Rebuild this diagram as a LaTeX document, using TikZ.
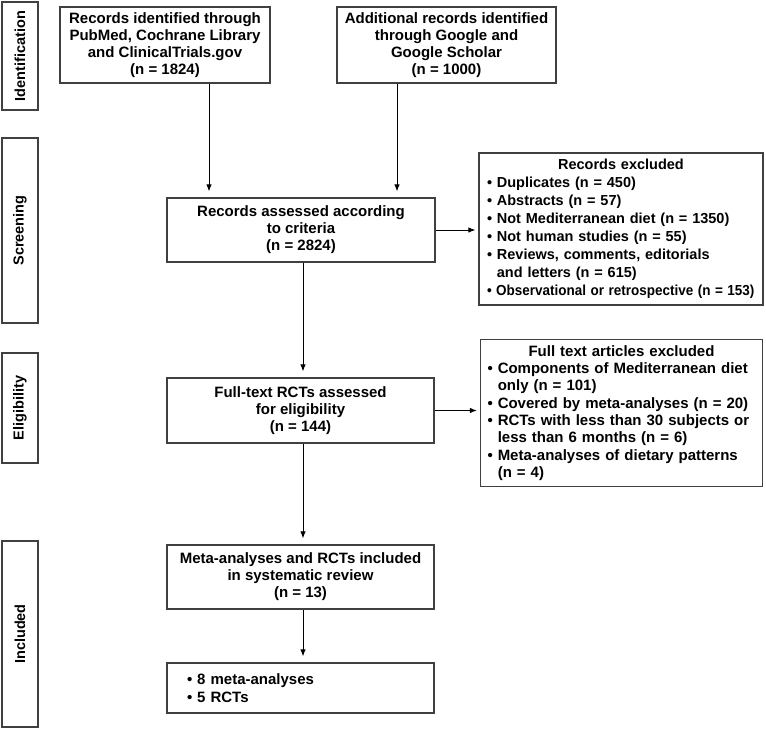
\documentclass[tikz,border=0pt]{standalone}
\usepackage{fontspec}
\setmainfont{Liberation Sans}
\usepackage{graphicx}
\usetikzlibrary{arrows.meta, calc}
\setlength{\parindent}{0pt}

\newcommand{\bul}{\textbullet\ }
\newcommand{\bulpad}{\hphantom{\textbullet\ }}

\tikzset{
  flowbox/.style={draw=black!75, line width=1.2pt, align=center, inner sep=0pt,
    font=\bfseries\fontsize{15}{17}\selectfont},
  stagebox/.style={draw=black!75, line width=1.2pt, rotate=90, inner sep=0pt,
    minimum height=36pt, font=\bfseries\fontsize{14.5}{17}\selectfont},
  listbox/.style={draw=black!75, line width=1.2pt, align=left, inner ysep=0pt},
  flowarrow/.style={-{Latex[length=7pt,width=5.5pt]}, line width=1pt, shorten >=6pt},
  sidearrow/.style={flowarrow, shorten >=3pt}
}

\begin{document}
\begin{tikzpicture}[x=1pt, y=-1pt]
        % Canvas
        \useasboundingbox (0,0) rectangle (766,731);

        % Define Coordinates
        \coordinate (A1) at (209,0);
        \coordinate (A2) at (397,0);
        \coordinate (A3) at (303,0);

        % Stage Labels
        \node[stagebox, minimum width=108pt] (stId) at (20,56) {Identification};
        \node[stagebox, minimum width=185pt] (stScr) at (20,230.5) {Screening};
        \node[stagebox, minimum width=110pt] (stElig) at (20,408) {Eligibility};
        \node[stagebox, minimum width=186pt] (stIncl) at (20,634) {Included};

        % Flow Boxes
        \node[flowbox, minimum width=210pt, minimum height=76pt] (recDb) at (165,45)
            {Records identified through\\PubMed, Cochrane Library\\and ClinicalTrials.gov\\(n = 1824)};
        \node[flowbox, minimum width=219pt, minimum height=76pt] (recWeb) at (446.5,45)
            {Additional records identified\\through Google and\\Google Scholar\\(n = 1000)};
        \node[flowbox, minimum width=268pt, minimum height=64pt] (recAll) at (301,230)
            {Records assessed according\\to criteria\\(n = 2824)};
        \node[flowbox, minimum width=267pt, minimum height=65pt] (fullTxt) at (300.5,410.5)
            {Full-text RCTs assessed\\for eligibility\\(n = 144)};
        \node[flowbox, minimum width=267pt, minimum height=64pt] (incl) at (300.5,577)
            {Meta-analyses and RCTs included\\in systematic review\\(n = 13)};
        \node[listbox, text width=227pt, inner xsep=20pt, minimum height=50pt,
              font=\bfseries\fontsize{15}{18}\selectfont] (inclList) at (300.5,688)
            {\bul 8 meta-analyses\\\bul 5 RCTs};

        % Exclusion Boxes
        \node[listbox, text width=268pt, inner xsep=8pt, minimum height=152pt,
              font=\bfseries\fontsize{14.5}{18}\selectfont] (exclRec) at (621,229)
            {{\centering Records excluded\par}
             \bul Duplicates (n = 450)\\
             \bul Abstracts (n = 57)\\
             \bul Not Mediterranean diet (n = 1350)\\
             \bul Not human studies (n = 55)\\
             \bul Reviews, comments, editorials\\
             \bulpad and letters (n = 615)\\
             \scalebox{0.93}[1]{\bul Observational or retrospective (n = 153)}};
        \node[listbox, text width=268pt, inner xsep=7pt, minimum height=147pt,
              font=\bfseries\fontsize{15}{17.3}\selectfont] (exclTxt) at (621.5,413)
            {{\centering Full text articles excluded\par}
             \bul Components of Mediterranean diet\\
             \bulpad only (n = 101)\\
             \bul Covered by meta-analyses (n = 20)\\
             \bul RCTs with less than 30 subjects or\\
             \bulpad less than 6 months (n = 6)\\
             \bul Meta-analyses of dietary patterns\\
             \bulpad (n = 4)};

        % Arrows
        \draw[flowarrow] (recDb.south -| A1) -- (recAll.north -| A1);
        \draw[flowarrow] (recWeb.south -| A2) -- (recAll.north -| A2);
        \draw[flowarrow] (recAll.south -| A3) -- (fullTxt.north -| A3);
        \draw[flowarrow] (fullTxt.south -| A3) -- (incl.north -| A3);
        \draw[flowarrow] (incl.south -| A3) -- (inclList.north -| A3);
        \draw[sidearrow] (recAll.east) -- (recAll.east -| exclRec.west);
        \draw[sidearrow] (fullTxt.east) -- (fullTxt.east -| exclTxt.west);

\end{tikzpicture}
\end{document}
